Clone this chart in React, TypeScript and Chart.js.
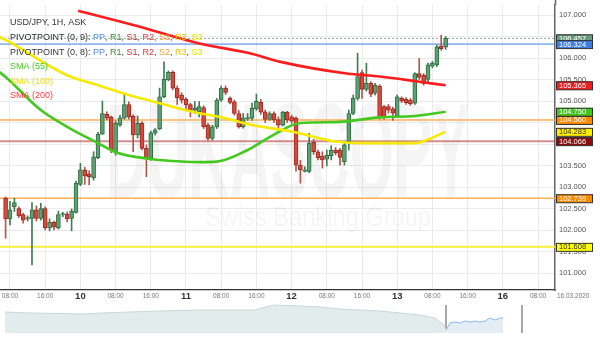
import React, { useEffect, useRef } from "react";
import { Chart, registerables } from "chart.js";

Chart.register(...registerables);
Chart.defaults.font.family = "'Liberation Sans', Arial, sans-serif";

// ---- time axis (hours since 9 Mar 00:00, weekend skipped) ----
const FIRST_HOUR = 7;
const X_MIN = 5.73;
const X_MAX = 131.86;
const xTickHours = [8, 16, 24, 32, 40, 48, 56, 64, 72, 80, 88, 96, 104, 112, 120, 128];
const dayLabels = ["9", "10", "11", "12", "13", "16"];
const dateLabelHour = 136;
const dateLabel = "16.03.2020";

// ---- price axis ----
const Y_MIN = 100.605;
const Y_MAX = 107.233;
const yTickValues = [101, 101.5, 102, 102.5, 103, 103.5, 104, 104.5, 105, 105.5, 106, 106.5, 107];

// ---- hourly candles USD/JPY ----
const opens = [102.74,102.26,102.54,102.50,102.36,102.26,102.27,102.47,102.27,102.50,
102.05,102.18,102.05,102.36,102.37,102.27,102.41,103.06,103.40,103.30,
103.22,103.68,104.23,104.69,104.63,103.82,104.44,104.60,104.92,104.65,
104.21,104.48,103.90,103.67,104.25,104.35,105.10,105.49,105.67,105.30,
105.14,105.04,104.92,104.79,104.75,104.85,104.44,104.13,104.40,105.02,
105.30,105.06,104.98,104.71,104.40,104.59,104.60,104.82,104.97,104.75,
104.57,104.71,104.57,104.44,104.74,104.63,104.60,103.51,103.36,103.36,
104.04,103.82,103.72,103.65,103.73,103.86,103.86,103.59,104.05,104.71,
105.06,105.66,105.27,105.41,105.18,105.35,104.87,104.87,104.82,104.65,
105.06,105.04,105.02,104.95,105.64,105.60,105.50,105.81,105.84,106.28,
106.25];
const highs = [102.77,102.67,102.74,102.54,102.39,102.33,102.64,102.56,102.62,102.54,
102.26,102.21,102.44,102.41,102.42,102.49,103.14,103.55,103.46,103.38,
103.82,104.27,105.00,104.75,104.65,104.54,104.67,105.18,104.98,104.68,
104.65,104.52,103.98,104.30,104.36,105.30,105.91,105.70,105.70,105.35,
105.19,105.08,104.95,104.99,104.99,104.89,104.48,104.44,105.06,105.35,
105.35,105.10,105.02,104.78,104.71,104.71,104.95,105.16,105.04,104.79,
104.75,104.75,104.63,104.76,104.76,104.67,104.63,103.62,103.47,104.25,
104.11,103.86,103.82,103.86,103.96,103.92,103.90,104.02,104.79,105.14,
106.11,105.72,105.88,105.45,105.41,105.38,104.90,104.92,104.86,105.14,
105.10,105.08,105.06,105.66,105.99,105.64,105.88,105.92,106.30,106.53,
106.50];
const lows = [101.81,102.12,102.43,102.29,102.16,102.21,101.19,102.21,102.23,102.00,
101.98,102.00,102.02,102.31,102.19,101.98,102.39,103.03,103.06,103.05,
103.16,103.66,104.22,104.56,103.80,103.74,104.41,104.58,104.58,103.82,
104.14,103.86,103.24,103.62,104.21,104.33,105.08,105.47,105.26,104.92,
104.95,104.79,104.63,104.71,104.63,104.36,104.09,104.09,104.36,104.99,
105.15,104.93,104.67,104.37,104.37,104.55,104.55,104.78,104.69,104.50,
104.55,104.50,104.37,104.42,104.50,104.48,103.37,103.09,103.35,103.33,
103.76,103.63,103.44,103.49,103.63,103.75,103.51,103.51,103.86,104.68,
105.02,105.06,105.23,105.10,105.14,104.58,104.58,104.72,104.55,104.62,
104.96,104.92,104.90,104.92,105.50,105.37,105.45,105.77,105.80,106.18,
106.20];
const closes = [102.26,102.47,102.64,102.33,102.23,102.29,102.47,102.27,102.50,102.05,
102.18,102.07,102.36,102.37,102.26,102.44,103.09,103.40,103.26,103.24,
103.70,104.23,104.71,104.60,103.86,104.48,104.61,104.92,104.63,104.21,
104.48,103.90,103.67,104.26,104.33,105.10,105.51,105.67,105.30,105.08,
105.02,104.91,104.77,104.84,104.87,104.40,104.13,104.40,105.02,105.30,
105.20,104.97,104.71,104.40,104.61,104.61,104.83,104.99,104.74,104.57,
104.71,104.56,104.44,104.74,104.56,104.53,103.51,103.40,103.40,104.02,
103.82,103.68,103.63,103.74,103.86,103.80,103.69,103.98,104.71,105.06,
105.57,105.27,105.41,105.16,105.37,104.62,104.62,104.79,104.72,105.10,
105.00,104.96,104.93,105.64,105.55,105.41,105.84,105.88,106.26,106.22,
106.46];

// ---- moving averages ----
const sma55Hours = [5, 7, 15, 21, 28, 32, 40, 44, 51, 55, 62, 67, 74, 82, 92, 100, 107];
const sma55Values = [105.72, 105.56, 104.79, 104.40, 104.02, 103.81, 103.65, 103.61, 103.58, 103.59, 103.86, 104.16, 104.49, 104.51, 104.62, 104.65, 104.75];
const sma100Hours = [5, 7, 21, 28.5, 35, 42, 49.5, 57, 63, 72, 82, 88, 100, 107];
const sma100Values = [106.52, 106.42, 105.60, 105.35, 105.14, 104.95, 104.75, 104.60, 104.44, 104.29, 104.06, 104.02, 104.02, 104.283];
const sma200Hours = [23.5, 36, 51, 62.5, 69.5, 84.5, 92, 101, 107];
const sma200Values = [107.10, 106.77, 106.34, 106.11, 105.91, 105.64, 105.57, 105.45, 105.365];

// ---- horizontal levels ----
const lastPrice = 106.457;
const pivotLevels = [106.324, 104.560, 104.066, 102.739, 101.608];
const tagValues = [106.457, 106.324, 105.365, 104.750, 104.560, 104.283, 104.066, 102.739, 101.608];

// ---- navigator (overview) ----
const navTimes = [5, 30, 60, 85, 100, 130, 160, 200, 230, 255, 265, 275, 300, 320, 340, 360, 380, 400, 420, 435, 440, 444, 446];
const navValues = [21, 20, 19.5, 19, 20, 21, 22, 23, 23, 23, 26, 28, 27, 26, 24, 23, 22, 20, 18, 15, 11, 8, 3];
const navRecentTimes = [446, 450, 455, 460, 465, 470, 475, 480, 485, 490, 495, 500, 503];
const navRecentValues = [3, 10, 11, 10, 12, 11, 12, 11, 12, 15, 13, 15, 15];
const navHandleTimes = [446, 522];

// ---- styles ----
const UP_FILL = "#5e9f74";
const UP_LINE = "#2f6d42";
const DN_FILL = "#d8493d";
const DN_LINE = "#9c2a22";
const pivotStyles = [
  { color: "#3f7fe0", width: 1 },
  { color: "#ffae55", width: 1.5 },
  { color: "rgba(170,30,30,0.5)", width: 2 },
  { color: "#ffae55", width: 1.5 },
  { color: "#f7ef3a", width: 2 },
];
const tagStyles = [
  { bg: "#6b9c7d", fg: "#ffffff" },
  { bg: "#3d7ee0", fg: "#ffffff" },
  { bg: "#f41d1d", fg: "#ffffff" },
  { bg: "#43c520", fg: "#ffffff" },
  { bg: "#ff8a00", fg: "#ffffff" },
  { bg: "#ffee00", fg: "#333333" },
  { bg: "#8b0c0c", fg: "#ffffff" },
  { bg: "#ff8a00", fg: "#ffffff" },
  { bg: "#ffff00", fg: "#333333" },
];

const DARK = "#333333";
const legendRows: { t: string; c: string }[][] = [
  [{ t: "USD/JPY, 1H, ASK", c: DARK }],
  [{ t: "PIVOTPOINT (0, 9): ", c: DARK }, { t: "PP", c: "#4f8ee0" }, { t: ", ", c: DARK }, { t: "R1", c: "#3c8c3c" }, { t: ", ", c: DARK }, { t: "S1", c: "#c83232" }, { t: ", ", c: DARK }, { t: "R2", c: "#dd3a3a" }, { t: ", ", c: DARK }, { t: "S2", c: "#f5a035" }, { t: ", ", c: DARK }, { t: "R3", c: "#f0c400" }, { t: ", ", c: DARK }, { t: "S3", c: "#ece200" }],
  [{ t: "PIVOTPOINT (0, 8): ", c: DARK }, { t: "PP", c: "#4f8ee0" }, { t: ", ", c: DARK }, { t: "R1", c: "#3c8c3c" }, { t: ", ", c: DARK }, { t: "S1", c: "#c83232" }, { t: ", ", c: DARK }, { t: "R2", c: "#dd3a3a" }, { t: ", ", c: DARK }, { t: "S2", c: "#f5a035" }, { t: ", ", c: DARK }, { t: "R3", c: "#f0c400" }, { t: ", ", c: DARK }, { t: "S3", c: "#ece200" }],
  [{ t: "SMA (55)", c: "#48c824" }],
  [{ t: "SMA (100)", c: "#f0e000" }],
  [{ t: "SMA (200)", c: "#ff3b3b" }],
];

const FONT = "'Liberation Sans', Arial, sans-serif";

function tickLabel(h: number): string {
  if (h % 24 === 0) return dayLabels[h / 24];
  const hr = h % 24;
  return (hr < 10 ? "0" + hr : String(hr)) + ":00";
}

const overlayPlugin = {
  id: "overlay",
  beforeDatasetsDraw(chart: any) {
    const ctx = chart.ctx;
    ctx.save();
    ctx.fillStyle = "rgba(0,0,0,0.038)";
    ctx.font = `bold 136px ${FONT}`;
    const w1 = ctx.measureText("DUKASCOPY").width;
    ctx.translate(106, 198);
    ctx.scale(364 / w1, 1);
    ctx.textBaseline = "alphabetic";
    ctx.fillText("DUKASCOPY", 0, 0);
    ctx.restore();
    ctx.save();
    ctx.fillStyle = "rgba(0,0,0,0.04)";
    ctx.font = `28px ${FONT}`;
    const w2 = ctx.measureText("Swiss Banking Group").width;
    ctx.translate(205, 226);
    ctx.scale(226 / w2, 1);
    ctx.fillText("Swiss Banking Group", 0, 0);
    ctx.restore();
  },
  afterDraw(chart: any) {
    const ctx = chart.ctx;
    const area = chart.chartArea;
    const ys = chart.scales.y;
    const xs = chart.scales.x;
    ctx.save();
    ctx.strokeStyle = "#666";
    ctx.lineWidth = 1.5;
    ctx.beginPath();
    ctx.moveTo(area.right + 0.5, 0);
    ctx.lineTo(area.right + 0.5, area.top);
    ctx.stroke();
    ctx.font = `9px ${FONT}`;
    ctx.textBaseline = "middle";
    ctx.textAlign = "left";
    legendRows.forEach((row, i) => {
      let x = 10;
      const y = 23 + i * 14.6;
      row.forEach((seg) => {
        ctx.fillStyle = seg.c;
        ctx.fillText(seg.t, x, y);
        x += ctx.measureText(seg.t).width;
      });
    });
    ctx.font = `7.5px ${FONT}`;
    tagValues.forEach((v, i) => {
      const y = ys.getPixelForValue(v);
      const st = tagStyles[i];
      ctx.fillStyle = st.bg;
      ctx.fillRect(area.right + 1, y - 4, 37, 8.5);
      ctx.strokeStyle = "#333";
      ctx.lineWidth = 1;
      ctx.strokeRect(area.right + 1.5, y - 3.5, 36, 8);
      ctx.fillStyle = st.fg;
      ctx.textBaseline = "middle";
      ctx.fillText(v.toFixed(3), area.right + 4, y + 0.5);
    });
    ctx.font = `6.5px ${FONT}`;
    ctx.fillStyle = "#777";
    ctx.textAlign = "center";
    ctx.fillText(dateLabel, xs.getPixelForValue(dateLabelHour), area.bottom + 6);
    ctx.restore();
  },
};

export default function App() {
  const mainRef = useRef<HTMLCanvasElement | null>(null);
  const navRef = useRef<HTMLCanvasElement | null>(null);

  useEffect(() => {
    document.body.style.margin = "0";
    const hours = opens.map((_, i) => FIRST_HOUR + i);
    const up = opens.map((o, i) => closes[i] >= o);

    const lineDs = (xsArr: number[], vals: number[], color: string, order: number) => ({
      type: "line" as const,
      data: xsArr.map((x, i) => ({ x, y: vals[i] })),
      borderColor: color,
      borderWidth: 2.6,
      pointRadius: 0,
      cubicInterpolationMode: "monotone" as const,
      fill: false,
      order,
    });

    const hLine = (v: number, color: string, width: number, dash: number[] = []) => ({
      type: "line" as const,
      data: [{ x: X_MIN, y: v }, { x: X_MAX, y: v }],
      borderColor: color,
      borderWidth: width,
      borderDash: dash,
      pointRadius: 0,
      fill: false,
      order: 5,
    });

    const datasets: any[] = [
      lineDs(sma200Hours, sma200Values, "#ff1c1c", 1),
      lineDs(sma100Hours, sma100Values, "#f5ea00", 1),
      lineDs(sma55Hours, sma55Values, "#42c81e", 1),
      {
        type: "bar",
        data: hours.map((h, i) => ({ x: h, y: [opens[i], closes[i]] })),
        backgroundColor: up.map((u) => (u ? UP_FILL : DN_FILL)),
        borderColor: up.map((u) => (u ? UP_LINE : DN_LINE)),
        borderWidth: 1,
        borderSkipped: false,
        barThickness: 4,
        minBarLength: 1,
        grouped: false,
        order: 2,
      },
      {
        type: "bar",
        data: hours.map((h, i) => ({ x: h, y: [lows[i], highs[i]] })),
        backgroundColor: up.map((u) => (u ? "#3f7d52" : "#b5544a")),
        borderWidth: 0,
        barThickness: 1,
        grouped: false,
        order: 3,
      },
      hLine(lastPrice, "#8fb09b", 1, [2, 2]),
      ...pivotLevels.map((v, i) => hLine(v, pivotStyles[i].color, pivotStyles[i].width)),
    ];

    const main = new Chart(mainRef.current as HTMLCanvasElement, {
      type: "bar",
      data: { datasets },
      options: {
        responsive: false,
        animation: false,
        events: [],
        layout: { padding: { top: 5, bottom: 44, left: 0, right: 0 } },
        plugins: { legend: { display: false }, tooltip: { enabled: false } },
        scales: {
          x: {
            type: "linear",
            min: X_MIN,
            max: X_MAX,
            offset: false,
            grid: { color: "#ebebeb", drawTicks: false, offset: false },
            border: { color: "#333", width: 1.2 },
            afterBuildTicks: (s: any) => {
              s.ticks = xTickHours.map((v) => ({ value: v }));
            },
            afterFit: (s: any) => {
              s.height = 10;
              s.paddingLeft = 0;
              s.paddingRight = 0;
            },
            ticks: {
              autoSkip: false,
              maxRotation: 0,
              padding: 0,
              callback: (v: any) => tickLabel(Number(v)),
              font: (c: any) =>
                c.tick && c.tick.value % 24 === 0
                  ? { size: 9.5, weight: "bold", lineHeight: "12px", family: FONT }
                  : { size: 6.5, lineHeight: "12px", family: FONT },
              color: (c: any) => (c.tick && c.tick.value % 24 === 0 ? "#333" : "#777"),
            },
          },
          y: {
            type: "linear",
            position: "right",
            min: Y_MIN,
            max: Y_MAX,
            grid: { color: "#ebebeb", drawTicks: false },
            border: { color: "#666", width: 1.5 },
            afterBuildTicks: (s: any) => {
              s.ticks = yTickValues.map((v) => ({ value: v }));
            },
            afterFit: (s: any) => {
              s.width = 45;
              s.paddingTop = 0;
              s.paddingBottom = 0;
            },
            ticks: {
              padding: 4,
              color: "#555",
              font: { size: 7.5, family: FONT },
              callback: (v: any) => Number(v).toFixed(3),
            },
          },
        },
      } as any,
      plugins: [overlayPlugin],
    });

    const nav = new Chart(navRef.current as HTMLCanvasElement, {
      type: "line",
      data: {
        datasets: [
          {
            data: navTimes.map((x, i) => ({ x, y: navValues[i] })),
            borderColor: "#c6d8da",
            borderWidth: 1,
            backgroundColor: "#e3eced",
            fill: "origin",
            pointRadius: 0,
          },
          {
            data: navRecentTimes.map((x, i) => ({ x, y: navRecentValues[i] })),
            borderColor: "#8db8ec",
            borderWidth: 1,
            backgroundColor: "#e4edf4",
            fill: "origin",
            pointRadius: 0,
          },
          ...navHandleTimes.map((x) => ({
            data: [{ x, y: 0 }, { x, y: 28 }],
            borderColor: "#a8a8a8",
            borderWidth: 2,
            pointRadius: 0,
            fill: false,
          })),
        ],
      },
      options: {
        responsive: false,
        animation: false,
        events: [],
        layout: { padding: 0 },
        plugins: { legend: { display: false }, tooltip: { enabled: false } },
        scales: {
          x: { type: "linear", min: 0, max: 600, display: false },
          y: { type: "linear", min: 0, max: 30, display: false },
        },
      } as any,
    });

    return () => {
      main.destroy();
      nav.destroy();
    };
  }, []);

  return (
    <div style={{ position: "relative", width: 600, height: 344, background: "#fff" }}>
      <canvas ref={mainRef} width={600} height={344} style={{ position: "absolute", left: 0, top: 0 }} />
      <canvas ref={navRef} width={600} height={30} style={{ position: "absolute", left: 0, top: 303 }} />
    </div>
  );
}
